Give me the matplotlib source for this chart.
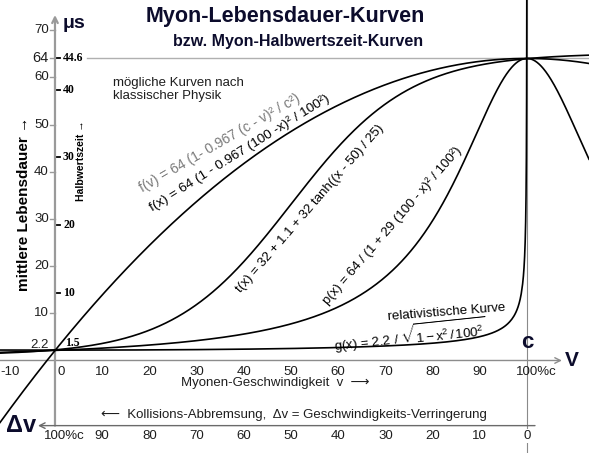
import numpy as np
import matplotlib
matplotlib.use("Agg")
import matplotlib.pyplot as plt

# --- chart content ---
LIFE_TICKS = [70, 64, 60, 50, 40, 30, 20, 10]
HALF_TICKS = [44.6, 40, 30, 20, 10]
HALF_AT_64 = 44.6
V_TICKS = [-10, 0, 10, 20, 30, 40, 50, 60, 70, 80, 90]
DV_LABELS = ["100%c", "90", "80", "70", "60", "50", "40", "30", "20", "10", "0"]

# curve parameters as printed on the chart
F_TOP, F_K = 64, 0.967
T_MID, T_OFF, T_AMP, T_X0, T_W = 32, 1.1, 32, 50, 25
P_TOP, P_K = 64, 29
G_REST = 2.2
C = 100

plt.rcParams['font.family'] = ['Liberation Sans', 'DejaVu Sans']
plt.rcParams['mathtext.fontset'] = 'custom'
plt.rcParams['mathtext.rm'] = 'Liberation Sans'
plt.rcParams['mathtext.it'] = 'Liberation Sans'

NAVY = '#0c0c2c'
TXT = '#1e1e1e'

fig = plt.figure(figsize=(5.89, 4.53), dpi=100)
ax = fig.add_axes([0, 0, 1, 1])
ax.set_xlim(-11.65, 113.14)
ax.set_ylim(-19.6, 76.38)
ax.axis('off')

x = np.linspace(-11.65, 113.14, 900)
f = F_TOP * (1 - F_K * (C - x) ** 2 / C ** 2)
t = T_MID + T_OFF + T_AMP * np.tanh((x - T_X0) / T_W)
p = P_TOP / (1 + P_K * (C - x) ** 2 / C ** 2)
xg = np.concatenate([np.linspace(-11.65, 99, 500), C - np.geomspace(1, 1e-5, 300)])
g = G_REST / np.sqrt(1 - xg ** 2 / C ** 2)

# --- reference lines and axes ---
ax.axvline(C, color='#8a8a8a', lw=0.8, zorder=1)
ax.plot([6.8, 113.14], [64, 64], color='#b0b0b0', lw=1.0, zorder=1)
ax.annotate('', xy=(107.4, 0), xytext=(-11.65, 0),
            arrowprops=dict(arrowstyle='->', color='#8c8c8c', lw=1.0, shrinkA=0, shrinkB=0))
ax.annotate('', xy=(0, 73.2), xytext=(0, -13.8),
            arrowprops=dict(arrowstyle='->', color='#9a9a9a', lw=1.6, shrinkA=0, shrinkB=0))
ax.annotate('', xy=(-3.6, -13.8), xytext=(101.7, -13.8),
            arrowprops=dict(arrowstyle='->', color='#6a6a6a', lw=1.0, shrinkA=0, shrinkB=0))

# --- curves ---
for yy in (f, t, p):
    ax.plot(x, yy, color='black', lw=1.2, zorder=3)
ax.plot(xg, g, color='black', lw=1.2, zorder=3)

# --- left scale (lifetime) ---
for v in LIFE_TICKS:
    ax.plot([-1.0, 0], [v, v], color='#9a9a9a', lw=1.0, zorder=2)
    ax.text(-1.3, v, str(v), ha='right', va='center', color=TXT,
            fontsize=10.5 if v == 64 else 9.5)
ax.text(-1.3, G_REST + 1.1, '2.2', ha='right', va='center', fontsize=9.5, color=TXT)

# --- half-life scale ---
for h in HALF_TICKS:
    yv = h * 64 / HALF_AT_64
    ax.plot([0.35, 1.05], [yv, yv], color='black', lw=1.3, zorder=4)
    ax.text(1.7, yv, f"{h:g}", ha='left', va='center', fontsize=8.5,
            family='Liberation Serif', weight='bold', color='black')
ax.text(2.1, G_REST + 1.6, '1.5', ha='left', va='center', fontsize=8.5,
        family='Liberation Serif', weight='bold', color='black')

# --- speed axis labels ---
for v in V_TICKS:
    xv = v + (1.4 if v == 0 else 0) + (0.5 if v < 0 else 0)
    ax.text(xv, -2.45, str(v), ha='center', va='center', fontsize=9.5, color=TXT)
ax.text(C - 2.3, -2.45, '100%c', ha='left', va='center', fontsize=9.5, color=TXT)

for i, lab in enumerate(DV_LABELS):
    xv = i * 10
    if lab == '100%c':
        ax.text(xv - 2.3, -16.0, lab, ha='left', va='center', fontsize=9.5, color=TXT)
    else:
        ax.text(xv, -16.0, lab, ha='center', va='center', fontsize=9.5, color=TXT,
                bbox=dict(facecolor='white', edgecolor='none', pad=0.5) if lab == '0' else None)

ax.text(46.6, -4.8, 'Myonen-Geschwindigkeit  v  ⟶', ha='center', va='center',
        fontsize=9.5, color=TXT)
ax.text(50.7, -11.5, '⟵  Kollisions-Abbremsung,  Δv = Geschwindigkeits-Verringerung',
        ha='center', va='center', fontsize=9.5, color=TXT)

# --- titles and big labels ---
ax.text(48.7, 72.8, 'Myon-Lebensdauer-Kurven', ha='center', va='center',
        fontsize=15.5, weight='bold', color=NAVY)
ax.text(51.5, 67.6, 'bzw. Myon-Halbwertszeit-Kurven', ha='center', va='center',
        fontsize=11.5, weight='bold', color=NAVY)
ax.text(4.0, 71.3, 'μs', ha='center', va='center', fontsize=14, weight='bold', color=NAVY)
ax.text(-7.2, -13.7, 'Δv', ha='center', va='center', fontsize=17, weight='bold', color=NAVY)
ax.text(C, 3.9, 'c', ha='center', va='center', fontsize=16, weight='bold', color=NAVY)
ax.text(109.5, 0.1, 'V', ha='center', va='center', fontsize=15, weight='bold', color=NAVY)

ax.text(-6.6, 33.2, 'mittlere Lebensdauer →', rotation=90, ha='center', va='center',
        fontsize=11, weight='bold', color='black')
ax.text(5.5, 42.4, 'Halbwertszeit →', rotation=90, ha='center', va='center',
        fontsize=7.5, weight='bold', color='black')

ax.text(12.3, 60.0, 'mögliche Kurven nach\nklassischer Physik', ha='left', va='top',
        fontsize=9.5, color=TXT, linespacing=1.1)

# --- curve labels ---
ax.text(35.0, 46.1, 'f(v) = 64 (1- 0.967 (c - v)² / c²)', rotation=30,
        rotation_mode='anchor', ha='center', va='center', fontsize=10, color='#7a7a7a')
ax.text(39.2, 44.0, 'f(x) = 64 (1 - 0.967 (100 -x)² / 100²)', rotation=32,
        rotation_mode='anchor', ha='center', va='center', fontsize=9.7, color='black')
ax.text(54.0, 32.2, 't(x) = 32 + 1.1 + 32 tanh((x - 50) / 25)', rotation=49,
        rotation_mode='anchor', ha='center', va='center', fontsize=9.5, color='black')
ax.text(71.5, 28.5, 'p(x) = 64 / (1 + 29 (100 - x)² / 100²)', rotation=49,
        rotation_mode='anchor', ha='center', va='center', fontsize=9.5, color='black')
ax.text(75.2, 5.4, r'g(x) = 2.2 / $\sqrt{\mathrm{1 - x^2\,/\,100^2}}$', rotation=6,
        rotation_mode='anchor', ha='center', va='center', fontsize=9.5, color='black')
ax.text(83.0, 10.1, 'relativistische Kurve', rotation=4.5,
        rotation_mode='anchor', ha='center', va='center', fontsize=9.5, color='black')

fig.savefig('out.png', dpi=100)
